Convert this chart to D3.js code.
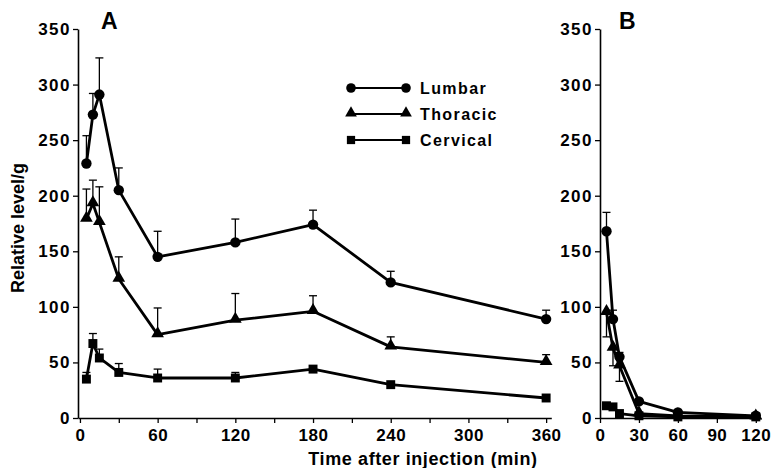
<!DOCTYPE html>
<html><head><meta charset="utf-8">
<script src="https://cdn.jsdelivr.net/npm/d3@7"></script>
<style>
body{margin:0;background:#fff;}
svg text{font-family:"Liberation Sans",Arial,sans-serif;font-weight:bold;fill:#000;}
</style></head>
<body><svg id="c" width="774" height="468"></svg>
<script>
// ---- data ----
const timesA = [5, 10, 15, 30, 60, 120, 180, 240, 360];
const lumbarA = [229, 273, 291, 205, 145, 158, 174, 122, 89];
const lumbarErrA = [25, 19, 33, 20, 23, 21, 13, 10, 8];
const thoracicA = [179, 193, 176, 125, 75, 88, 96, 64, 50];
const thoracicErrA = [27, 21, 32, 20, 24, 24, 14, 9, 7];
const cervicalA = [35, 67, 54, 41, 36, 36, 44, 30, 18];
const cervicalErrA = [6, 9, 8, 8, 8, 5, 0, 0, 0];

const timesB = [5, 10, 15, 30, 60, 120];
const lumbarB = [168, 89, 55, 15, 5, 2];
const lumbarErrB = [17, 8, 4, 0, 0, 0];
const thoracicB = [95, 63, 47, 4, 2, 1];
const thoracicLoErrB = [22, 16, 14, 0, 0, 0];
const cervicalB = [11, 10, 4, 2, 1, 1];

const yTicks = [0, 50, 100, 150, 200, 250, 300, 350];
const xTicksA = [0, 30, 60, 90, 120, 150, 180, 210, 240, 270, 300, 330, 360];
const xLabelsA = [0, 60, 120, 180, 240, 300, 360];
const xTicksB = [0, 30, 60, 90, 120];
const seriesNames = ["Lumbar", "Thoracic", "Cervical"];
const yLabel = "Relative level/g";
const xLabel = "Time after injection (min)";

// ---- drawing ----
const svg = d3.select("#c");
const y = d3.scaleLinear().domain([0, 350]).range([418, 29]);
const xA = d3.scaleLinear().domain([-1.5, 364]).range([78, 551.3]);
const xB = d3.scaleLinear().domain([0, 124]).range([600, 761]);

const symbols = [d3.symbolCircle, d3.symbolTriangle, d3.symbolSquare];
const symSizes = [85, 70, 80];

function drawAxes(x, xTicks, xLabels, x0) {
  const gx = svg.append("g").attr("transform", "translate(0,418)")
    .call(d3.axisBottom(x).tickValues(xTicks).tickSize(5).tickSizeOuter(0).tickPadding(6)
      .tickFormat(d => xLabels.includes(d) ? d : ""));
  const gy = svg.append("g").attr("transform", `translate(${x0},0)`)
    .call(d3.axisLeft(y).tickValues(yTicks).tickSize(5).tickSizeOuter(0).tickPadding(2));
  [gx, gy].forEach(g => {
    g.select(".domain").attr("stroke", "#000").attr("stroke-width", 1.6);
    g.selectAll(".tick line").attr("stroke", "#000").attr("stroke-width", 1.3);
    g.selectAll("text").style("font-size", "17px").style("font-family", '"Liberation Sans",Arial,sans-serif')
      .style("font-weight", "bold").attr("fill", "#000");
  });
  gx.selectAll("text").style("letter-spacing", "0.5px");
  gy.selectAll("text").style("letter-spacing", "1.5px");
}

function drawSeries(x, times, vals, upErr, loErr, si) {
  const g = svg.append("g");
  times.forEach((t, i) => {
    const px = x(t);
    if (upErr && upErr[i] > 0) {
      g.append("line").attr("x1", px).attr("x2", px).attr("y1", y(vals[i])).attr("y2", y(vals[i] + upErr[i]))
        .attr("stroke", "#000").attr("stroke-width", 1.3);
      g.append("line").attr("x1", px - 4).attr("x2", px + 4).attr("y1", y(vals[i] + upErr[i])).attr("y2", y(vals[i] + upErr[i]))
        .attr("stroke", "#000").attr("stroke-width", 1.3);
    }
    if (loErr && loErr[i] > 0) {
      g.append("line").attr("x1", px).attr("x2", px).attr("y1", y(vals[i])).attr("y2", y(vals[i] - loErr[i]))
        .attr("stroke", "#000").attr("stroke-width", 1.3);
      g.append("line").attr("x1", px - 4).attr("x2", px + 4).attr("y1", y(vals[i] - loErr[i])).attr("y2", y(vals[i] - loErr[i]))
        .attr("stroke", "#000").attr("stroke-width", 1.3);
    }
  });
  const line = d3.line().x((d, i) => x(times[i])).y(d => y(d));
  g.append("path").datum(vals).attr("d", line).attr("fill", "none")
    .attr("stroke", "#000").attr("stroke-width", 2.8).attr("stroke-linejoin", "round");
  g.selectAll("path.m").data(vals).enter().append("path").attr("class", "m")
    .attr("transform", (d, i) => `translate(${x(times[i])},${y(d) + (si === 1 ? -1 : 0)})`)
    .attr("d", d3.symbol().type(symbols[si]).size(symSizes[si]))
    .attr("fill", "#000");
}

drawAxes(xA, xTicksA, xLabelsA, 78);
drawAxes(xB, xTicksB, xTicksB, 600);

drawSeries(xA, timesA, lumbarA, lumbarErrA, null, 0);
drawSeries(xA, timesA, thoracicA, thoracicErrA, null, 1);
drawSeries(xA, timesA, cervicalA, cervicalErrA, null, 2);

drawSeries(xB, timesB, cervicalB, null, null, 2);
drawSeries(xB, timesB, thoracicB, null, thoracicLoErrB, 1);
drawSeries(xB, timesB, lumbarB, lumbarErrB, null, 0);

// legend
const legY = [88, 114, 140];
seriesNames.forEach((name, i) => {
  const g = svg.append("g");
  g.append("line").attr("x1", 351).attr("x2", 406).attr("y1", legY[i]).attr("y2", legY[i])
    .attr("stroke", "#000").attr("stroke-width", 2);
  [351, 406].forEach(px => g.append("path")
    .attr("transform", `translate(${px},${legY[i] + (i === 1 ? -1 : 0)})`)
    .attr("d", d3.symbol().type(symbols[i]).size(symSizes[i] * 0.85)).attr("fill", "#000"));
  g.append("text").attr("x", 420).attr("y", legY[i]).attr("dy", "0.36em")
    .style("font-size", "16px").style("letter-spacing", "1.4px").text(name);
});

// panel letters
svg.append("text").attr("x", 101).attr("y", 29).style("font-size", "23px").text("A");
svg.append("text").attr("x", 619).attr("y", 29).style("font-size", "23px").text("B");

// axis titles
svg.append("text").attr("x", 423).attr("y", 465).attr("text-anchor", "middle")
  .style("font-size", "18px").style("letter-spacing", "0.6px").text(xLabel);
svg.append("text").attr("transform", "translate(24,228) rotate(-90)").attr("text-anchor", "middle")
  .style("font-size", "18px").text(yLabel);
</script>
</body></html>
